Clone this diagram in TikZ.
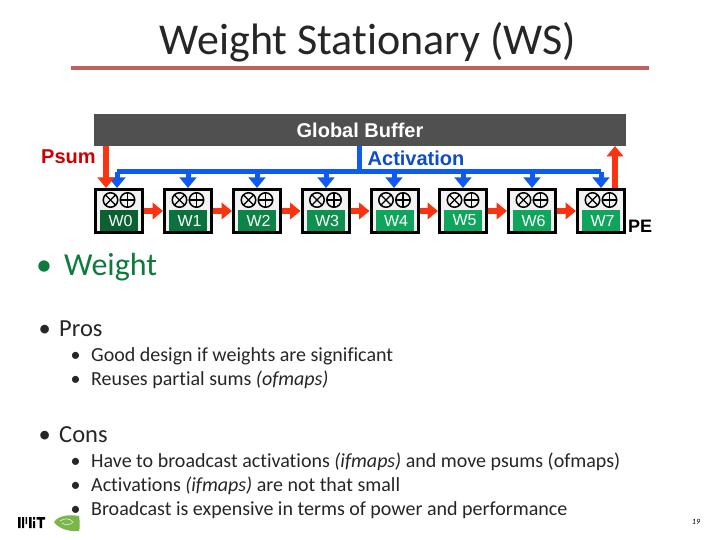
\documentclass[tikz,border=0pt]{standalone}
\usepackage{fontspec}
\setmainfont{Carlito}[Ligatures=NoCommon]
\newfontfamily\arialfont{Liberation Sans}
\usetikzlibrary{arrows.meta}
\definecolor{bufgrey}{HTML}{505050}
\definecolor{busblue}{HTML}{0F5AF0}
\definecolor{flowred}{HTML}{FA3410}
\definecolor{ruler}{HTML}{C0605A}
\definecolor{weightgreen}{HTML}{0E7A3C}
\definecolor{gz}{HTML}{0B6132}
\definecolor{gy}{HTML}{0FA55C}
\definecolor{leaf}{HTML}{7AB648}
\tikzset{
  pebox/.style={draw=black,line width=3pt,fill=black!5,minimum width=47pt,minimum height=43pt,inner sep=0pt,outer sep=0pt,anchor=north west},
  wlabel/.style={minimum width=38pt,minimum height=21pt,inner sep=0pt,text=white,font=\arialfont\fontsize{16}{16}\selectfont},
  opc/.style={draw=black,line width=1.5pt,circle,minimum size=14.5pt,inner sep=0pt,outer sep=0pt},
  redflow/.style={draw=flowred,line width=6pt,-{Triangle[width=16.5pt,length=10.5pt,fill=flowred]}},
  blueflow/.style={draw=busblue,line width=5pt,-{Triangle[width=16.5pt,length=10.5pt,fill=busblue]}},
  body/.style={anchor=base west,inner sep=0pt,font=\fontsize{20}{20}\selectfont,text=black!85},
  head/.style={anchor=base west,inner sep=0pt,font=\fontsize{24.5}{24.5}\selectfont,text=black!85},
  blab/.style={inner sep=0pt,font=\arialfont\bfseries\fontsize{20}{20}\selectfont},
}
\begin{document}
\begin{tikzpicture}[x=1pt,y=-1pt]
\useasboundingbox (0,0) rectangle (720,540);
\fill[white] (0,0) rectangle (720,540);
\node[inner sep=0pt,font=\fontsize{44}{44}\selectfont,text=black!85] (title) at (368,42) {Weight Stationary (WS)};
\coordinate (ruleL) at (71,68); \coordinate (ruleR) at (649,68);
\draw[ruler,line width=4pt] (ruleL) -- (ruleR);
\node[fill=bufgrey,minimum width=532pt,minimum height=32pt,inner sep=0pt,anchor=north west] (buffer) at (94,114) {};
\node[blab,text=white] (buflabel) at (360,130) {Global Buffer};
\node[blab,text=red!80!black,anchor=west] (psum) at (41,157) {Psum};
\node[blab,text=busblue!85!black,anchor=west] (act) at (367.5,158) {Activation};
\node[blab,anchor=west,font=\arialfont\bfseries\fontsize{18}{18}\selectfont] (pe) at (628,226) {PE};
% PEs
\foreach \i/\x/\c in {0/95.5/gz,1/164.5/gz!75!gy,2/233.5/gz!50!gy,3/302/gz!30!gy,4/371/gy,5/439.5/gy,6/508.5/gy,7/577.5/gy}{
  \node[pebox] (pe\i) at (\x,189.5) {};
  \node[wlabel,fill=\c] (w\i) at (\x+23.5,220.5) {\hspace*{3pt}W\i};
  \node[opc] (mul\i) at (\x+15,200) {};
  \node[opc] (add\i) at (\x+32,200) {};
  \draw[line width=1.3pt] (mul\i.north west) -- (mul\i.south east) (mul\i.north east) -- (mul\i.south west);
  \draw[line width=1.3pt] (add\i.north) -- (add\i.south) (add\i.west) -- (add\i.east);
}
% activation bus
\coordinate (busL) at (117,172);
\coordinate (busR) at (601,172);
\coordinate (busT) at (359.5,146);
\coordinate (busM) at (359.5,172);
\draw[busblue,line width=5pt] (busL) -- (busR) (buffer.south -| busT) -- (busM);
\draw[blueflow] (busL) -- (117,188);
\foreach \i/\x in {1/188,2/257,3/326,4/394,5/463,6/532,7/601}{
  \coordinate (d\i) at (\x,172);
  \draw[blueflow] (d\i) -- (\x,188);
}
% red flows
\foreach \a/\b in {0/1,1/2,2/3,3/4,4/5,5/6,6/7}{
  \draw[redflow] (pe\a.east |- 0,211) ++(1.5,0) -- ([xshift=-1.5pt]pe\b.west |- 0,211);
}
\draw[redflow] (106,146) -- (106,188);
\draw[redflow] (615,188) -- (615,146);
% text
\node[anchor=base west,inner sep=0pt,font=\fontsize{32}{32}\selectfont,text=weightgreen] (b1) at (36,275) {•};
\node[anchor=base west,inner sep=0pt,font=\fontsize{32}{32}\selectfont,text=weightgreen] (t1) at (64,275) {Weight};
\node[head] (b2) at (38.5,336) {•}; \node[head] (t2) at (59,336) {Pros};
\node[body] (b3) at (70.5,361) {•}; \node[body] (t3) at (91,361) {Good design if weights are significant};
\node[body] (b4) at (70.5,385) {•}; \node[body] (t4) at (91,385) {Reuses partial sums \textit{(ofmaps)}};
\node[head] (b5) at (38.5,442) {•}; \node[head] (t5) at (59,442) {Cons};
\node[body] (b6) at (70.5,467) {•}; \node[body] (t6) at (91,467) {Have to broadcast activations \textit{(ifmaps)} and move psums (ofmaps)};
\node[body] (b7) at (70.5,491) {•}; \node[body] (t7) at (91,491) {Activations \textit{(ifmaps)} are not that small};
\node[body] (b8) at (70.5,515) {•}; \node[body] (t8) at (91,515) {Broadcast is expensive in terms of power and performance};
% logos
\fill[black] (18,517) rectangle (20.5,528) (22,517) rectangle (24,528) (25.5,517) rectangle (27,524) (29,517) rectangle (31.5,528) (33,521) rectangle (35,528) (33,517) rectangle (35,519.5) (36.5,517) rectangle (45,519.5) (39.5,519.5) rectangle (42,528);
\fill[leaf] (54,522) .. controls (58,516) and (68,514) .. (79,516) .. controls (80,522) and (80,528) .. (79,531) .. controls (68,532) and (58,528) .. (54,522) -- cycle;
\draw[white!70!leaf,line width=0.7pt] (60,521) .. controls (64,518) and (70,518) .. (73,522) .. controls (70,526) and (64,525) .. (62,523);
\node[inner sep=0pt,font=\itshape\fontsize{8}{8}\selectfont] (page) at (696,522) {19};
\end{tikzpicture}
\end{document}
